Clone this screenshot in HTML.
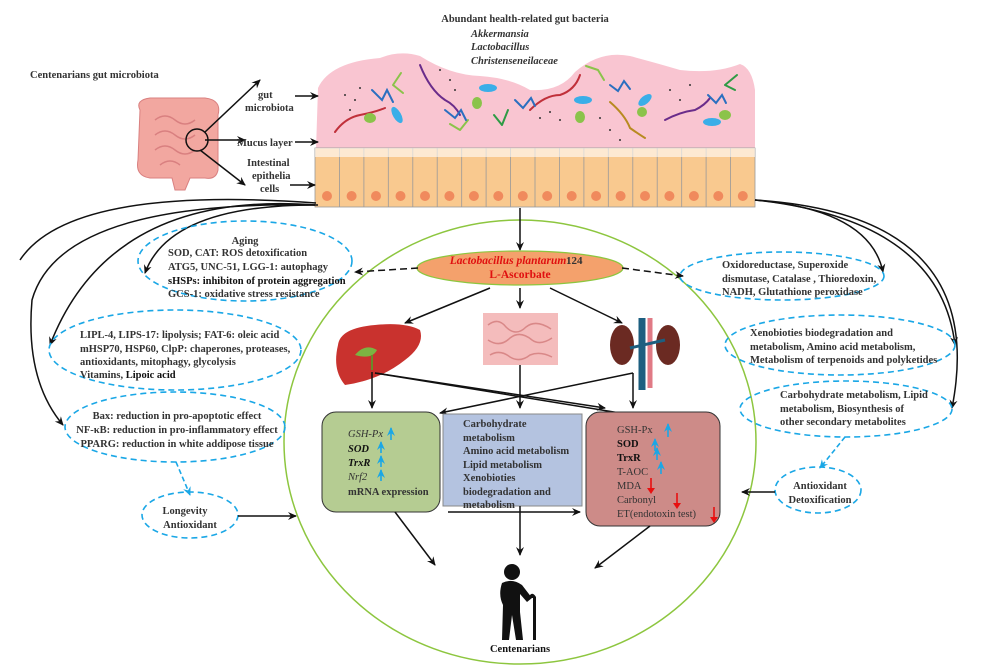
<!DOCTYPE html>
<html><head><meta charset="utf-8"><style>
body{margin:0;background:#fff}
svg{display:block}
text{font-family:"Liberation Serif",serif;font-weight:bold;font-size:10.5px;fill:#333}
.i{font-style:italic}
.d{fill:none;stroke:#1aa7e6;stroke-width:1.6;stroke-dasharray:6,4}
.a{fill:none;stroke:#111;stroke-width:1.5;marker-end:url(#ah)}
</style></head><body>
<svg width="1000" height="666" viewBox="0 0 1000 666" xmlns="http://www.w3.org/2000/svg">
<defs>
<marker id="ah" markerWidth="10" markerHeight="10" refX="8" refY="5" orient="auto" markerUnits="userSpaceOnUse"><path d="M0,1 L9,5 L0,9 L3,5Z" fill="#111"/></marker>
<marker id="bh" markerWidth="10" markerHeight="10" refX="8" refY="5" orient="auto" markerUnits="userSpaceOnUse"><path d="M0,1 L9,5 L0,9 L3,5Z" fill="#1aa7e6"/></marker>
</defs>

<text x="525" y="22" text-anchor="middle">Abundant health-related gut bacteria</text>
<text x="471" y="37" class="i">Akkermansia</text>
<text x="471" y="50" class="i">Lactobacillus</text>
<text x="471" y="64" class="i">Christenseneilaceae</text>

<path d="M316,150 L318,88 Q330,62 380,58 Q400,50 420,56 Q450,75 480,76 Q510,78 530,90 Q560,92 575,72 Q600,50 630,56 Q660,64 680,70 Q715,74 740,64 Q752,68 755,90 L755,150Z" fill="#f9c5d1"/>
<g stroke-width="2" fill="none" stroke-linecap="round">
<path d="M335,132 Q345,118 360,115 Q375,112 385,108" stroke="#c0303a"/>
<path d="M420,65 Q430,90 445,100 Q455,105 460,115" stroke="#6a2c8a"/>
<path d="M530,110 Q545,95 560,95 Q575,90 580,75" stroke="#c0303a"/>
<path d="M610,102 Q625,115 630,128 Q640,135 645,138" stroke="#b88a20"/>
<path d="M665,120 Q680,112 695,110 Q705,105 710,98" stroke="#6a2c8a"/>
<path d="M393,85 l8,-12 M393,85 l10,8" stroke="#8bc34a"/>
<path d="M460,130 l8,-10 M460,130 l-10,-6" stroke="#8bc34a"/>
<path d="M502,125 l6,-15 M502,125 l-8,-10" stroke="#2e9b45"/>
<path d="M598,70 l-12,-4 M598,70 l6,10" stroke="#8bc34a"/>
<path d="M725,85 l12,-10 M725,85 l10,5" stroke="#2e9b45"/>
<path d="M372,90 l10,10 l5,-10 l6,12" stroke="#2a6fc0"/>
<path d="M445,110 l10,8 l6,-8 l5,10" stroke="#2a6fc0"/>
<path d="M515,100 l8,8 l8,-10 l4,8" stroke="#2a6fc0"/>
<path d="M610,85 l8,6 l6,-10 l6,8" stroke="#2a6fc0"/>
<path d="M708,95 l8,8 l6,-8 l4,8" stroke="#2a6fc0"/>
</g>
<g fill="#3aaee8"><ellipse cx="397" cy="115" rx="4" ry="9" transform="rotate(-30 397 115)"/><ellipse cx="488" cy="88" rx="9" ry="4"/><ellipse cx="583" cy="100" rx="9" ry="4"/><ellipse cx="645" cy="100" rx="8" ry="4" transform="rotate(-40 645 100)"/><ellipse cx="712" cy="122" rx="9" ry="4"/></g>
<g fill="#8bc34a"><ellipse cx="370" cy="118" rx="6" ry="5"/><ellipse cx="477" cy="103" rx="5" ry="6"/><ellipse cx="580" cy="117" rx="5" ry="6"/><ellipse cx="642" cy="112" rx="5" ry="5"/><ellipse cx="725" cy="115" rx="6" ry="5"/></g>
<g fill="#333"><circle cx="345" cy="95" r="1"/><circle cx="355" cy="100" r="1"/><circle cx="350" cy="110" r="1"/><circle cx="360" cy="88" r="1"/><circle cx="440" cy="70" r="1"/><circle cx="450" cy="80" r="1"/><circle cx="455" cy="90" r="1"/><circle cx="540" cy="118" r="1"/><circle cx="550" cy="112" r="1"/><circle cx="560" cy="120" r="1"/><circle cx="610" cy="130" r="1"/><circle cx="620" cy="140" r="1"/><circle cx="600" cy="118" r="1"/><circle cx="670" cy="90" r="1"/><circle cx="680" cy="100" r="1"/><circle cx="690" cy="85" r="1"/></g>

<rect x="315" y="148" width="440" height="59" fill="#f9c98f" stroke="#999" stroke-width="0.8"/>
<g stroke="#999" stroke-width="0.8">
<line x1="339.4" y1="148" x2="339.4" y2="207"/><line x1="363.9" y1="148" x2="363.9" y2="207"/><line x1="388.3" y1="148" x2="388.3" y2="207"/><line x1="412.8" y1="148" x2="412.8" y2="207"/><line x1="437.2" y1="148" x2="437.2" y2="207"/><line x1="461.7" y1="148" x2="461.7" y2="207"/><line x1="486.1" y1="148" x2="486.1" y2="207"/><line x1="510.6" y1="148" x2="510.6" y2="207"/><line x1="535" y1="148" x2="535" y2="207"/><line x1="559.4" y1="148" x2="559.4" y2="207"/><line x1="583.9" y1="148" x2="583.9" y2="207"/><line x1="608.3" y1="148" x2="608.3" y2="207"/><line x1="632.8" y1="148" x2="632.8" y2="207"/><line x1="657.2" y1="148" x2="657.2" y2="207"/><line x1="681.7" y1="148" x2="681.7" y2="207"/><line x1="706.1" y1="148" x2="706.1" y2="207"/><line x1="730.6" y1="148" x2="730.6" y2="207"/>
</g>
<g fill="#f08a5d">
<circle cx="327" cy="196" r="5"/><circle cx="351.6" cy="196" r="5"/><circle cx="376" cy="196" r="5"/><circle cx="400.5" cy="196" r="5"/><circle cx="425" cy="196" r="5"/><circle cx="449.4" cy="196" r="5"/><circle cx="473.9" cy="196" r="5"/><circle cx="498.3" cy="196" r="5"/><circle cx="522.8" cy="196" r="5"/><circle cx="547.2" cy="196" r="5"/><circle cx="571.7" cy="196" r="5"/><circle cx="596.1" cy="196" r="5"/><circle cx="620.6" cy="196" r="5"/><circle cx="645" cy="196" r="5"/><circle cx="669.4" cy="196" r="5"/><circle cx="693.9" cy="196" r="5"/><circle cx="718.3" cy="196" r="5"/><circle cx="742.8" cy="196" r="5"/>
</g>
<rect x="315" y="148" width="440" height="9" fill="#fff" opacity="0.6"/>

<g fill="#f2a7a0" stroke="#d98080" stroke-width="1">
<path d="M140,110 Q135,100 150,98 L205,98 Q222,100 218,115 L218,170 Q216,180 205,178 L190,178 L185,190 L175,190 L172,178 L150,178 Q135,176 138,160Z"/>
</g>
<g fill="none" stroke="#d98080" stroke-width="1.5"><path d="M155,120 q10,-8 20,0 q10,8 20,0 M155,135 q10,-8 20,0 q10,8 20,0 M155,150 q10,-8 20,0 q10,8 20,0 M160,165 q10,-8 20,0"/></g>
<circle cx="197" cy="140" r="11" fill="none" stroke="#111" stroke-width="1.5"/>
<text x="30" y="78">Centenarians gut microbiota</text>
<path class="a" d="M205,132 L260,80"/>
<path class="a" d="M205,140 L245,140"/>
<path class="a" d="M200,150 L245,185"/>
<text x="258" y="98">gut</text><text x="245" y="111">microbiota</text>
<path class="a" d="M295,96 L318,96"/>
<text x="237" y="146">Mucus layer</text>
<path class="a" d="M295,142 L318,142"/>
<text x="247" y="166">Intestinal</text><text x="252" y="179">epithelia</text><text x="260" y="192">cells</text>
<path class="a" d="M290,185 L315,185"/>

<ellipse cx="520" cy="442" rx="236" ry="222" fill="none" stroke="#8dc63f" stroke-width="1.5"/>
<path class="a" d="M520,208 L520,250"/>

<path class="a" d="M315,205 Q170,205 145,273"/>
<path class="a" d="M315,205 Q110,190 50,345"/>
<path class="a" d="M318,205 Q60,200 32,300 Q25,380 63,425"/>
<path d="M316,203 Q70,185 20,260" fill="none" stroke="#111" stroke-width="1.5"/>
<path class="a" d="M755,200 Q870,210 883,272"/>
<path class="a" d="M755,200 Q940,220 955,345"/>
<path class="a" d="M755,200 Q990,215 952,408"/>

<ellipse cx="520" cy="268" rx="103" ry="17" fill="#f4a16c" stroke="#8dc63f" stroke-width="1.2"/>
<text x="508" y="264" text-anchor="middle" class="i" style="fill:#e01010;font-size:11.5px">Lactobacillus plantarum</text>
<text x="566" y="264" style="fill:#333;font-size:11px">124</text>
<text x="520" y="278" text-anchor="middle" style="fill:#e01010;font-size:11.5px">L-Ascorbate</text>
<path d="M418,268 L355,272" fill="none" stroke="#111" stroke-width="1.5" stroke-dasharray="7,4" marker-end="url(#ah)"/>
<path d="M622,268 L683,276" fill="none" stroke="#111" stroke-width="1.5" stroke-dasharray="7,4" marker-end="url(#ah)"/>

<ellipse cx="245" cy="261" rx="107" ry="40" class="d"/>
<text x="245" y="244" text-anchor="middle">Aging</text>
<text x="168" y="256">SOD, CAT: ROS detoxification</text>
<text x="168" y="270">ATG5, UNC-51, LGG-1: autophagy</text>
<text x="168" y="284" style="fill:#111">sHSPs: inhibiton of protein aggregation</text>
<text x="168" y="297">GCS-1: oxidative stress resistance</text>

<ellipse cx="175" cy="350" rx="126" ry="40" class="d"/>
<text x="80" y="338">LIPL-4, LIPS-17: lipolysis; FAT-6: oleic acid</text>
<text x="80" y="352">mHSP70, HSP60, ClpP: chaperones, proteases,</text>
<text x="80" y="365">antioxidants, mitophagy, glycolysis</text>
<text x="80" y="378">Vitamins, <tspan style="fill:#111">Lipoic acid</tspan></text>

<ellipse cx="175" cy="427" rx="110" ry="35" class="d"/>
<text x="177" y="419" text-anchor="middle">Bax: reduction in pro-apoptotic effect</text>
<text x="177" y="433" text-anchor="middle">NF-κB: reduction in pro-inflammatory effect</text>
<text x="177" y="447" text-anchor="middle">PPARG: reduction in white addipose tissue</text>
<path d="M176,462 L190,495" fill="none" stroke="#1aa7e6" stroke-width="1.6" stroke-dasharray="5,3" marker-end="url(#bh)"/>
<ellipse cx="190" cy="515" rx="48" ry="23" class="d"/>
<text x="185" y="514" text-anchor="middle">Longevity</text>
<text x="190" y="528" text-anchor="middle">Antioxidant</text>
<path class="a" d="M238,516 L296,516"/>

<ellipse cx="782" cy="276" rx="102" ry="24" class="d"/>
<text x="722" y="268">Oxidoreductase, Superoxide</text>
<text x="722" y="282">dismutase,  Catalase , Thioredoxin,</text>
<text x="722" y="295">NADH, Glutathione peroxidase</text>
<ellipse cx="840" cy="345" rx="115" ry="30" class="d"/>
<text x="750" y="336">Xenobioties biodegradation and</text>
<text x="750" y="350">metabolism, Amino acid metabolism,</text>
<text x="750" y="363">Metabolism of terpenoids and polyketides</text>
<ellipse cx="846" cy="409" rx="106" ry="28" class="d"/>
<text x="780" y="398">Carbohydrate metabolism, Lipid</text>
<text x="780" y="412">metabolism, Biosynthesis of</text>
<text x="780" y="425">other secondary metabolites</text>
<path d="M845,437 L820,468" fill="none" stroke="#1aa7e6" stroke-width="1.6" stroke-dasharray="5,3" marker-end="url(#bh)"/>
<ellipse cx="818" cy="490" rx="43" ry="23" class="d"/>
<text x="820" y="489" text-anchor="middle">Antioxidant</text>
<text x="820" y="503" text-anchor="middle">Detoxification</text>
<path class="a" d="M775,492 L742,492"/>

<path class="a" d="M490,288 L405,323"/>
<path class="a" d="M520,288 L520,308"/>
<path class="a" d="M550,288 L622,323"/>
<path d="M338,345 Q340,328 375,325 Q405,322 420,330 Q425,345 405,360 Q380,380 345,385 Q332,370 338,345Z" fill="#c9322e"/>
<path d="M355,355 q10,-12 22,-5 q-5,10 -22,5Z" fill="#7cb342"/>
<path d="M372,355 L372,370" stroke="#6a8a2a" stroke-width="2"/>
<rect x="483" y="313" width="75" height="52" fill="#f4bcbc"/>
<g fill="none" stroke="#d98888" stroke-width="1.5"><path d="M488,325 q10,-8 18,2 q10,10 20,0 q10,-8 25,2 M488,340 q12,8 22,-2 q10,-8 22,2 q8,6 20,-2 M490,355 q10,-6 20,2 q10,6 20,-2 q10,-4 22,2"/></g>
<ellipse cx="622" cy="345" rx="12" ry="20" fill="#6b2a22"/>
<ellipse cx="668" cy="345" rx="12" ry="20" fill="#6b2a22"/>
<path d="M642,318 L642,390" stroke="#1c5f80" stroke-width="7"/>
<path d="M650,318 L650,388" stroke="#e07a85" stroke-width="5"/>
<path d="M630,348 L665,340" stroke="#1c5f80" stroke-width="3"/>

<path d="M372,372 L372,408" class="a"/>
<path d="M375,373 L620,413" class="a" style="marker-end:none"/>
<path d="M375,373 L605,408" class="a"/>
<path d="M633,373 L440,413" class="a"/>
<path d="M520,365 L520,408" class="a"/>
<path d="M633,373 L633,408" class="a"/>

<rect x="322" y="412" width="118" height="100" rx="14" fill="#b5cc92" stroke="#333" stroke-width="1"/>
<text x="348" y="437" class="i" style="font-weight:normal">GSH-Px</text>
<text x="348" y="452" class="i" style="fill:#111">SOD</text>
<text x="348" y="466" class="i" style="fill:#111">TrxR</text>
<text x="348" y="480" class="i" style="font-weight:normal">Nrf2</text>
<text x="348" y="495">mRNA expression</text>
<g stroke="#1aa7e6" stroke-width="1.6" fill="none" marker-end="url(#bh)">
<path d="M391,440 L391,428"/><path d="M381,453 L381,442"/><path d="M381,467 L381,456"/><path d="M381,481 L381,470"/>
</g>
<rect x="443" y="414" width="139" height="92" fill="#b4c3e0" stroke="#888" stroke-width="1"/>
<text x="463" y="427">Carbohydrate</text>
<text x="463" y="441">metabolism</text>
<text x="463" y="454">Amino acid metabolism</text>
<text x="463" y="468">Lipid metabolism</text>
<text x="463" y="481">Xenobioties</text>
<text x="463" y="495">biodegradation and</text>
<text x="463" y="508">metabolism</text>
<rect x="586" y="412" width="134" height="114" rx="14" fill="#cd8b88" stroke="#333" stroke-width="1"/>
<text x="617" y="433" style="font-weight:normal">GSH-Px</text>
<text x="617" y="447" style="fill:#111">SOD</text>
<text x="617" y="461" style="fill:#111">TrxR</text>
<text x="617" y="475" style="font-weight:normal">T-AOC</text>
<text x="617" y="489" style="font-weight:normal">MDA</text>
<text x="617" y="503" style="font-weight:normal">Carbonyl</text>
<text x="617" y="517" style="font-weight:normal">ET(endotoxin test)</text>
<g stroke="#1aa7e6" stroke-width="1.6" fill="none" marker-end="url(#bh)">
<path d="M668,437 L668,424"/><path d="M655,451 L655,439"/><path d="M657,460 L657,448"/><path d="M661,474 L661,462"/>
</g>
<g stroke="#e81010" stroke-width="1.6" fill="none">
<path d="M651,478 L651,490"/><path d="M677,493 L677,505"/><path d="M714,507 L714,519"/>
</g>
<g fill="#e81010"><path d="M647,488 L655,488 L651,494Z"/><path d="M673,503 L681,503 L677,509Z"/><path d="M710,517 L718,517 L714,523Z"/></g>
<path class="a" d="M448,512 L580,512"/>

<path class="a" d="M395,512 L435,565"/>
<path class="a" d="M520,506 L520,555"/>
<path class="a" d="M650,526 L595,568"/>

<g fill="#111">
<circle cx="512" cy="572" r="8"/>
<path d="M502,583 Q512,578 522,585 L532,598 L527,602 L520,594 L520,612 L523,640 L516,640 L512,615 L509,640 L502,640 L503,605 Q498,595 502,583Z"/>
<path d="M528,598 Q532,590 536,597 L536,640 L533,640 L533,598Z"/>
</g>
<text x="520" y="652" text-anchor="middle" style="fill:#111">Centenarians</text>
</svg>
</body></html>
